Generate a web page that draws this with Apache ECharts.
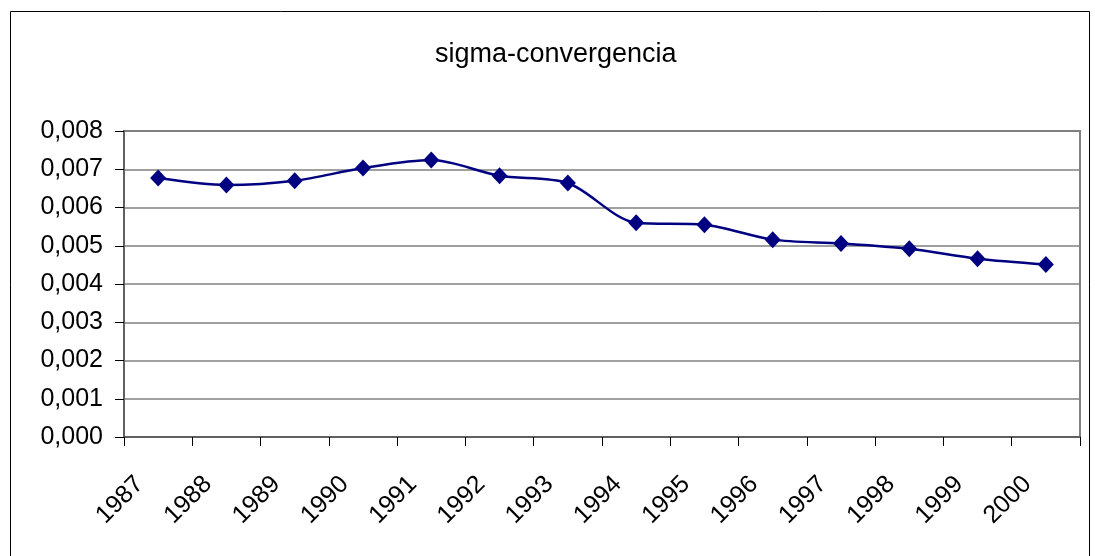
<!DOCTYPE html>
<html>
<head>
<meta charset="utf-8">
<script src="https://cdn.jsdelivr.net/npm/echarts@6/dist/echarts.min.js"></script>
<style>
  html, body { margin: 0; padding: 0; background: #fff; }
  #chart { width: 1095px; height: 556px; }
</style>
</head>
<body>
<div id="chart"></div>
<script>
// datos
const years = ['1987', '1988', '1989', '1990', '1991', '1992', '1993',
  '1994', '1995', '1996', '1997', '1998', '1999', '2000'];
const sigma = [0.00677, 0.00659, 0.00670, 0.00703, 0.00724, 0.00683, 0.00664,
  0.00560, 0.00555, 0.00516, 0.00506, 0.00492, 0.00466, 0.00451];

const myChart = echarts.init(document.getElementById('chart'));

const option = {
  backgroundColor: '#fff',
  animation: false,
  textStyle: { fontFamily: 'Liberation Sans, Arial, sans-serif' },
  title: {
    text: 'sigma-convergencia',
    left: 430,
    top: 36,
    textStyle: { fontSize: 27, fontWeight: 'normal', color: '#000' }
  },
  graphic: [{
    type: 'rect',
    left: 8, top: 9,
    shape: { width: 1079, height: 600 },
    style: { fill: 'none', stroke: '#000', lineWidth: 1 },
    silent: true
  }],
  grid: { left: 124, right: 15, top: 131, bottom: 119, show: true, borderColor: '#808080', borderWidth: 2 },
  xAxis: {
    type: 'category',
    data: years,
    boundaryGap: true,
    axisLine: { lineStyle: { color: '#606060', width: 2 } },
    axisTick: { show: true, length: 9, lineStyle: { color: '#000', width: 1 } },
    axisLabel: {
      rotate: 45, fontSize: 25, color: '#000', margin: 25, interval: 0,
      padding: [0, 26, 0, 0]
    }
  },
  yAxis: {
    type: 'value',
    min: 0, max: 0.008, interval: 0.001,
    axisLine: { show: true, lineStyle: { color: '#606060', width: 2 } },
    axisTick: { show: true, length: 9, lineStyle: { color: '#000', width: 1 } },
    axisLabel: {
      fontSize: 25, color: '#000', margin: 21,
      formatter: function (v) { return v.toFixed(3).replace('.', ','); }
    },
    splitLine: { lineStyle: { color: '#808080', width: 1.5 } }
  },
  series: [{
    type: 'line',
    data: sigma,
    smooth: 0.3,
    symbol: 'diamond',
    symbolSize: [16, 17],
    lineStyle: { color: '#000080', width: 2.5 },
    itemStyle: { color: '#000080' }
  }]
};

myChart.setOption(option);
</script>
</body>
</html>
